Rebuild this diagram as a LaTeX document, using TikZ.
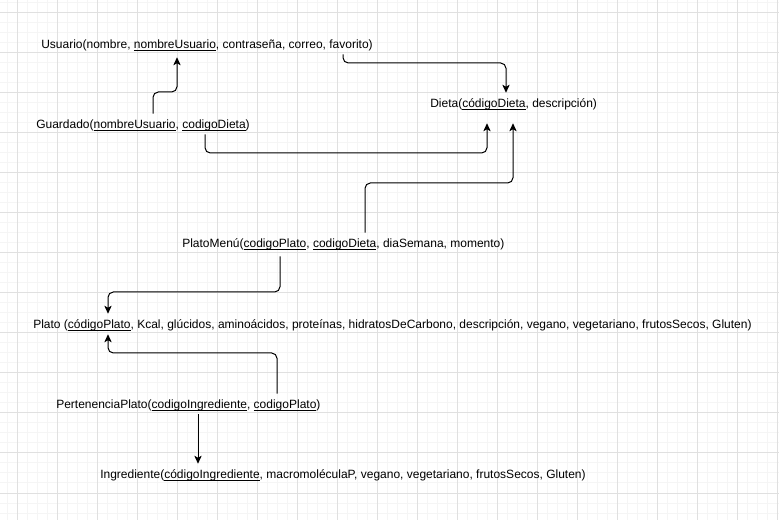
\documentclass[tikz,border=0pt]{standalone}
\usepackage{fontspec}
\setmainfont{Liberation Sans}
\usetikzlibrary{arrows.meta}
\newcommand{\undl}[1]{\setbox0\hbox{#1}\rlap{\rule[-1.5pt]{\wd0}{0.6pt}}\box0}
\tikzset{
  minorgrid/.style={draw=black!4, line width=0.75pt},
  majorgrid/.style={draw=black!12, line width=0.75pt},
  rel/.style={anchor=west, inner xsep=0pt, inner ysep=1.75pt, text height=9.5pt, text depth=2pt,
    font=\fontsize{9pt}{11pt}\selectfont, text=black},
  conn/.style={draw=black, line width=0.75pt, rounded corners=4pt,
    -{Stealth[length=6pt, width=5.5pt, inset=1.5pt]}}
}
\begin{document}
\begin{tikzpicture}[x=0.75pt, y=-0.75pt]
\useasboundingbox (0,0) rectangle (779,520);
\fill[white] (0,0) rectangle (779,520);
% grid
\foreach \x in {7,17,...,777} \draw[minorgrid] (\x,0) -- (\x,520);
\foreach \y in {3,13,...,513} \draw[minorgrid] (0,\y) -- (779,\y);
\foreach \x in {17,57,...,777} \draw[majorgrid] (\x,0) -- (\x,520);
\foreach \y in {13,53,...,493} \draw[majorgrid] (0,\y) -- (779,\y);
% relations
\node[rel] (usuario) at (41,44) {Usuario(nombre, \undl{nombreUsuario}, contraseña, correo, favorito)};
\node[rel] (guardado) at (36,124) {Guardado(\undl{nombreUsuario}, \undl{codigoDieta})};
\node[rel] (dieta) at (430,103) {Dieta(\undl{códigoDieta}, descripción)};
\node[rel] (platomenu) at (182,243) {PlatoMenú(\undl{codigoPlato}, \undl{codigoDieta}, diaSemana, momento)};
\node[rel] (plato) at (33,324) {Plato (\undl{códigoPlato}, Kcal, glúcidos, aminoácidos, proteínas, hidratosDeCarbono, descripción, vegano, vegetariano, frutosSecos, Gluten)};
\node[rel] (pertenencia) at (56,404) {PertenenciaPlato(\undl{codigoIngrediente}, \undl{codigoPlato})};
\node[rel] (ingrediente) at (100,474) {Ingrediente(\undl{códigoIngrediente}, macromoléculaP, vegano, vegetariano, frutosSecos, Gluten)};
% columns
\coordinate (c1) at (153,0);
\coordinate (c2) at (177,0);
\coordinate (c3) at (343,0);
\coordinate (c4) at (506,0);
\coordinate (c5) at (205,0);
\coordinate (c6) at (487,0);
\coordinate (c7) at (365,0);
\coordinate (c8) at (513,0);
\coordinate (c9) at (280,0);
\coordinate (c10) at (108,0);
\coordinate (c11) at (277,0);
\coordinate (c12) at (198,0);
% connectors
\draw[conn, shorten >=2.25pt] (guardado.north -| c1) -- (153,92) -- (177,92) -- (usuario.south -| c2);
\draw[conn] (usuario.south -| c3) -- (343,63) -- (506,63) -- (dieta.north -| c4);
\draw[conn, shorten >=7.5pt] (guardado.south -| c5) -- (205,153) -- (487,153) -- (dieta.south -| c6);
\draw[conn, shorten >=7.5pt] (platomenu.north -| c7) -- (365,183) -- (513,183) -- (dieta.south -| c8);
\draw[conn, shorten <=2.25pt] (platomenu.south -| c9) -- (280,292) -- (108,292) -- (plato.north -| c10);
\draw[conn] (pertenencia.north -| c11) -- (277,353) -- (108,353) -- (plato.south -| c10);
\draw[conn] (pertenencia.south -| c12) -- (ingrediente.north -| c12);
\end{tikzpicture}
\end{document}
